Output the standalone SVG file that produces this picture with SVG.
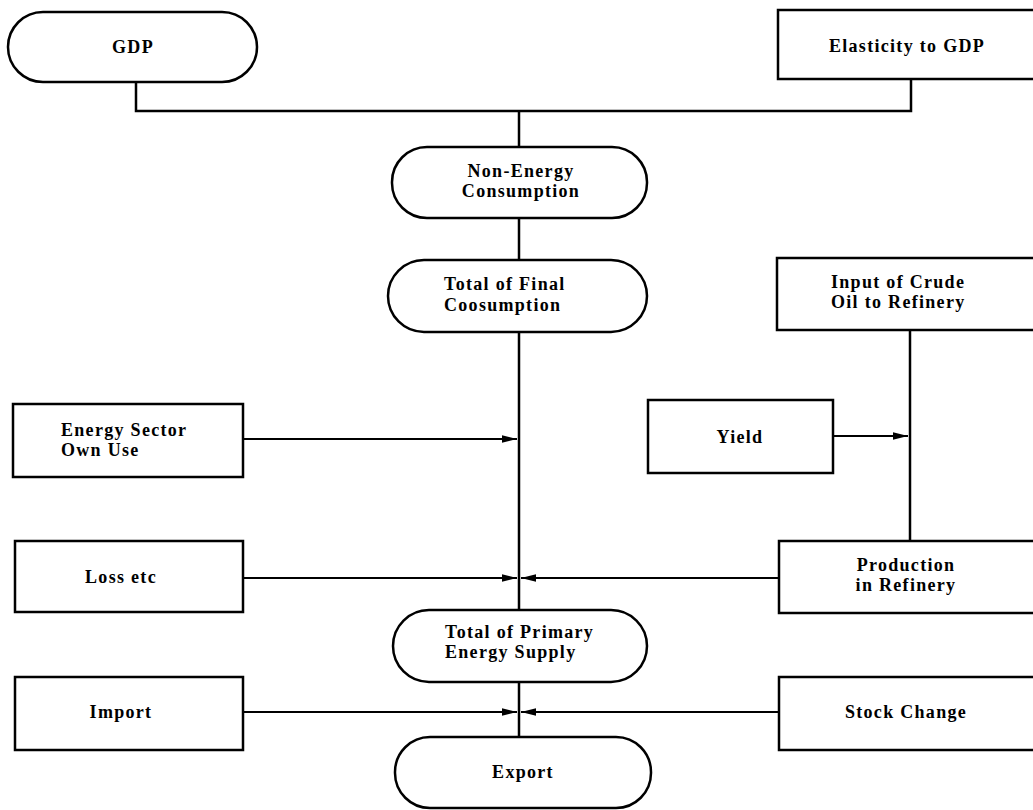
<svg xmlns="http://www.w3.org/2000/svg" width="1033" height="810" viewBox="0 0 1033 810">
<defs>
<marker id="ah" viewBox="0 0 10 10" refX="10" refY="5" markerWidth="7" markerHeight="3.6" markerUnits="strokeWidth" orient="auto" preserveAspectRatio="none">
<path d="M0,0 L10,5 L0,10 z" fill="#000"/>
</marker>
</defs>
<style>
.box{fill:#fff;stroke:#000;stroke-width:2.5}
.t{font-family:"Liberation Serif","Times New Roman",serif;font-weight:bold;font-size:18px;fill:#000;letter-spacing:1.3px}
.m{text-anchor:middle}
.s{text-anchor:start}
.c{fill:none;stroke:#000;stroke-width:2.5}
.a{fill:none;stroke:#000;stroke-width:2.2;marker-end:url(#ah)}
</style>
<rect width="1033" height="810" fill="#fff"/>
<g id="connectors">
<path class="c" d="M136,82 V111 H911 V79"/>
<path class="c" d="M519,111 V147"/>
<path class="c" d="M519,218 V260"/>
<path class="c" d="M519,332 V610" stroke-width="3"/>
<path class="c" d="M519,682 V737" stroke-width="3"/>
<path class="c" d="M910,330 V541" stroke-width="3"/>
<path class="a" d="M243,439 H517"/>
<path class="a" d="M833,436 H908"/>
<path class="a" d="M243,578 H517"/>
<path class="a" d="M779,578 H521"/>
<path class="a" d="M243,712 H517"/>
<path class="a" d="M779,712 H521"/>
</g>
<g id="gdp">
<rect class="box" x="8" y="12" width="249" height="70" rx="35"/>
<text class="t m" x="133" y="53">GDP</text>
</g>
<g id="elasticity">
<rect class="box" x="778" y="10" width="262" height="69"/>
<text class="t m" x="907" y="52">Elasticity to GDP</text>
</g>
<g id="non-energy">
<rect class="box" x="392" y="147" width="255" height="71" rx="35"/>
<text class="t m" x="521" y="177">Non-Energy</text>
<text class="t m" x="521" y="197">Consumption</text>
</g>
<g id="final">
<rect class="box" x="388" y="260" width="259" height="72" rx="36"/>
<text class="t s" x="444" y="290">Total of Final</text>
<text class="t s" x="444" y="311">Coosumption</text>
</g>
<g id="input-crude">
<rect class="box" x="777" y="258" width="263" height="72"/>
<text class="t s" x="831" y="288">Input of Crude</text>
<text class="t s" x="831" y="308">Oil to Refinery</text>
</g>
<g id="energy-sector">
<rect class="box" x="13" y="404" width="230" height="73"/>
<text class="t s" x="61" y="436">Energy Sector</text>
<text class="t s" x="61" y="456">Own Use</text>
</g>
<g id="yield">
<rect class="box" x="648" y="400" width="185" height="73"/>
<text class="t m" x="740" y="443">Yield</text>
</g>
<g id="loss">
<rect class="box" x="15" y="541" width="228" height="71"/>
<text class="t m" x="121" y="583">Loss etc</text>
</g>
<g id="production">
<rect class="box" x="779" y="541" width="261" height="72"/>
<text class="t m" x="906" y="571">Production</text>
<text class="t m" x="906" y="591">in Refinery</text>
</g>
<g id="primary">
<rect class="box" x="393" y="610" width="254" height="72" rx="36"/>
<text class="t s" x="445" y="638">Total of Primary</text>
<text class="t s" x="445" y="658">Energy Supply</text>
</g>
<g id="import">
<rect class="box" x="15" y="677" width="228" height="73"/>
<text class="t m" x="121" y="718">Import</text>
</g>
<g id="stock">
<rect class="box" x="779" y="677" width="261" height="73"/>
<text class="t m" x="906" y="718">Stock Change</text>
</g>
<g id="export">
<rect class="box" x="395" y="737" width="256" height="71" rx="35"/>
<text class="t m" x="523" y="778">Export</text>
</g>
</svg>
